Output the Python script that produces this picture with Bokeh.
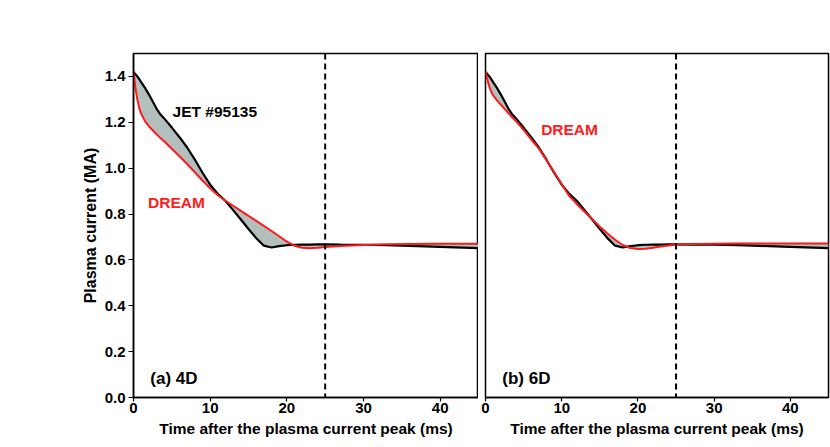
from bokeh.plotting import figure
from bokeh.layouts import row
from bokeh.models import Range1d, Span, FixedTicker
from bokeh.core.properties import value
from bokeh.embed import file_html
from bokeh.resources import INLINE

# Time after the plasma current peak (ms)
time_ms = [0, 0.25, 0.5, 0.75, 1, 1.5, 2, 3, 3.5, 4, 5, 6, 7, 8, 9, 10, 11, 12, 13, 14,
           15, 16, 17, 18, 19, 20, 21, 22, 23, 24, 25, 27, 30, 33, 36, 39, 42, 45]

# JET #95135 measured plasma current (MA)
jet_ip = [1.42, 1.41, 1.40, 1.388, 1.375, 1.35, 1.322, 1.26, 1.235, 1.217, 1.177, 1.135,
          1.09, 1.037, 0.98, 0.928, 0.888, 0.857, 0.817, 0.776, 0.735, 0.695, 0.662,
          0.654, 0.66, 0.664, 0.666, 0.667, 0.667, 0.668, 0.668, 0.667, 0.666, 0.664,
          0.661, 0.658, 0.655, 0.651]

# DREAM simulation, 4D
dream_4d = [1.42, 1.35, 1.30, 1.262, 1.238, 1.205, 1.183, 1.148, 1.132, 1.117, 1.085,
            1.052, 1.018, 0.982, 0.946, 0.912, 0.882, 0.858, 0.836, 0.814, 0.792, 0.77,
            0.748, 0.726, 0.703, 0.68, 0.662, 0.653, 0.651, 0.653, 0.656, 0.661, 0.665,
            0.668, 0.669, 0.67, 0.67, 0.67]

# DREAM simulation, 6D
dream_6d = [1.42, 1.385, 1.355, 1.333, 1.318, 1.296, 1.277, 1.24, 1.222, 1.205, 1.167,
            1.125, 1.085, 1.035, 0.983, 0.93, 0.878, 0.843, 0.81, 0.777, 0.745, 0.715,
            0.688, 0.665, 0.652, 0.648, 0.649, 0.653, 0.658, 0.663, 0.667, 0.669, 0.67,
            0.671, 0.672, 0.672, 0.672, 0.672]

x_ticks = [0, 10, 20, 30, 40]
y_ticks = [0.0, 0.2, 0.4, 0.6, 0.8, 1.0, 1.2, 1.4]
y_tick_labels = {0.0: "0.0", 0.2: "0.2", 0.4: "0.4", 0.6: "0.6", 0.8: "0.8",
                 1.0: "1.0", 1.2: "1.2", 1.4: "1.4"}
vline_t = 25

FONT = "Liberation Sans"
FILL = "#b3bfbd"


def make_panel(dream, panel_label, dream_label_pos, show_y, jet_label_pos=None,
               border_left=133, border_right=0, fw=345):
    p = figure(frame_width=fw, frame_height=344,
               x_range=Range1d(0, 45), y_range=Range1d(0, 1.5),
               min_border_left=border_left, min_border_right=border_right,
               min_border_top=53, min_border_bottom=10,
               output_backend="svg", toolbar_location=None)
    p.xgrid.visible = False
    p.ygrid.visible = False
    p.outline_line_color = "black"
    p.outline_line_width = 1.5
    p.background_fill_color = "white"
    p.border_fill_color = "white"

    # x axis
    xa = p.xaxis[0]
    xa.ticker = FixedTicker(ticks=x_ticks)
    xa.minor_tick_line_color = None
    xa.major_tick_out = 4
    xa.major_tick_in = 0
    xa.major_tick_line_width = 1.2
    xa.axis_line_width = 1.5
    xa.axis_line_color = "black"
    xa.major_tick_line_color = "black"
    xa.major_label_text_color = "black"
    xa.major_label_text_font = FONT
    xa.major_label_text_font_style = "bold"
    xa.major_label_text_font_size = "15px"
    xa.major_label_standoff = 1
    xa.axis_label = "Time after the plasma current peak (ms)"
    xa.axis_label_text_color = "black"
    xa.axis_label_text_font = FONT
    xa.axis_label_text_font_style = "bold"
    xa.axis_label_text_font_size = "15.5px"
    xa.axis_label_standoff = 4

    ya = p.yaxis[0]
    if show_y:
        ya.ticker = FixedTicker(ticks=y_ticks)
        ya.major_label_overrides = y_tick_labels
        ya.minor_tick_line_color = None
        ya.major_tick_out = 5
        ya.major_tick_in = 0
        ya.major_tick_line_width = 1.2
        ya.axis_line_width = 1.5
        ya.axis_line_color = "black"
        ya.major_tick_line_color = "black"
        ya.major_label_text_color = "black"
        ya.major_label_text_font = FONT
        ya.major_label_text_font_style = "bold"
        ya.major_label_text_font_size = "15px"
        ya.major_label_standoff = 3
        ya.axis_label = "Plasma current (MA)"
        ya.axis_label_text_color = "black"
        ya.axis_label_text_font = FONT
        ya.axis_label_text_font_style = "bold"
        ya.axis_label_text_font_size = "16px"
        ya.axis_label_standoff = 3
    else:
        ya.visible = False

    p.varea(x=time_ms, y1=jet_ip, y2=dream, fill_color=FILL)
    p.line(time_ms, jet_ip, line_color="black", line_width=2.2)
    p.line(time_ms, dream, line_color="#ff1a1a", line_width=2)

    p.add_layout(Span(location=vline_t, dimension="height", line_color="black",
                      line_width=2, line_dash="6 4"))

    if jet_label_pos is not None:
        p.text(x=[jet_label_pos[0]], y=[jet_label_pos[1]], text=["JET #95135"],
               text_font=value(FONT), text_font_style="bold", text_font_size="15.5px",
               text_color="black", text_align="left", text_baseline="middle")
    p.text(x=[dream_label_pos[0]], y=[dream_label_pos[1]], text=["DREAM"],
           text_font=value(FONT), text_font_style="bold", text_font_size="15.5px",
           text_color="#ff1a1a", text_align="left", text_baseline="middle")
    p.text(x=[2.2], y=[0.083], text=[panel_label],
           text_font=value(FONT), text_font_style="bold", text_font_size="17px",
           text_color="black", text_align="left", text_baseline="middle")
    return p


p1 = make_panel(dream_4d, "(a) 4D", (1.9, 0.85), True, jet_label_pos=(5.1, 1.247))
p2 = make_panel(dream_6d, "(b) 6D", (7.3, 1.168), False, border_left=7,
                border_right=2, fw=343)

layout = row(p1, p2)
open("out.html", "w").write(file_html(layout, INLINE))
